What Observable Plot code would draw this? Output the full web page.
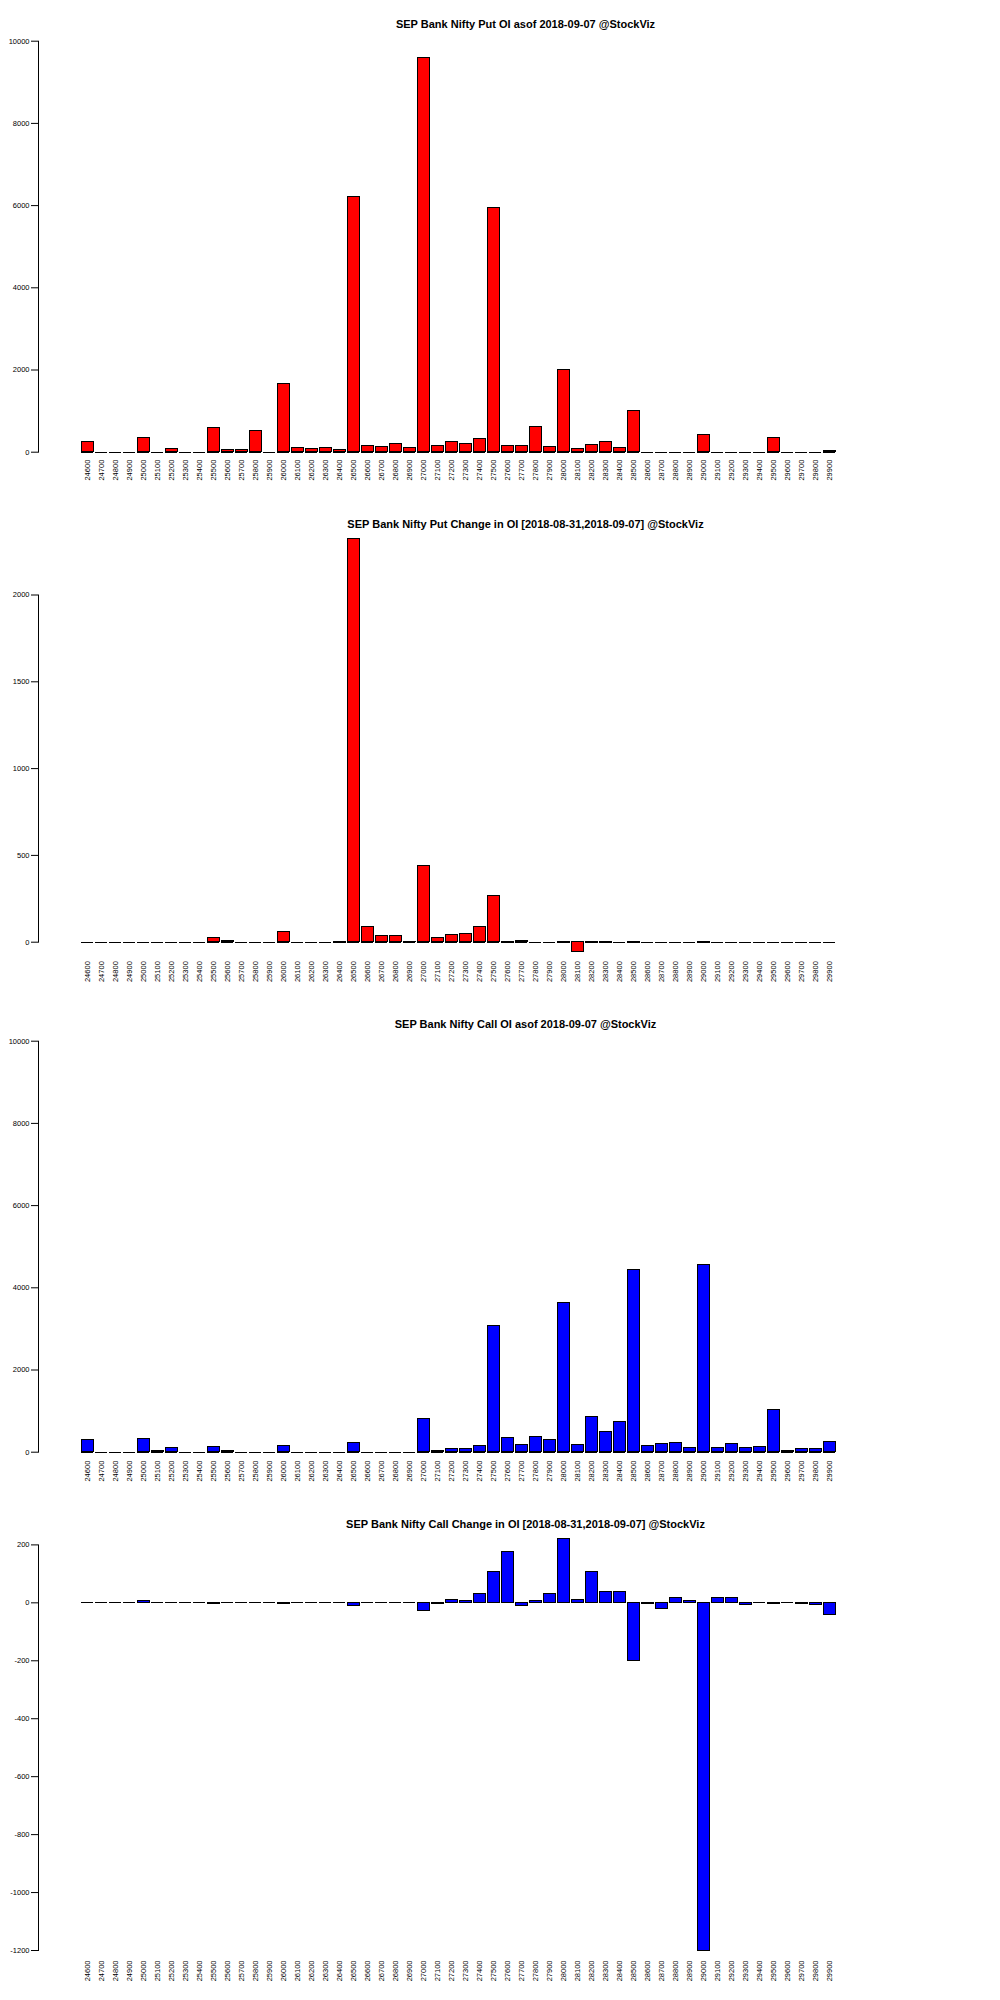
<!DOCTYPE html>
<html><head><meta charset="utf-8">
<script src="https://cdn.jsdelivr.net/npm/d3@7"></script>
<script src="https://cdn.jsdelivr.net/npm/@observablehq/plot@0.6"></script>
<style>body{margin:0;background:#fff} #chart svg{display:block}</style>
</head><body><div id="chart"></div>
<script>
const strikes = [24600,24700,24800,24900,25000,25100,25200,25300,25400,25500,25600,25700,25800,25900,26000,26100,26200,26300,26400,26500,26600,26700,26800,26900,27000,27100,27200,27300,27400,27500,27600,27700,27800,27900,28000,28100,28200,28300,28400,28500,28600,28700,28800,28900,29000,29100,29200,29300,29400,29500,29600,29700,29800,29900];

const putOI = [250,0,0,0,345,0,75,0,0,590,50,50,515,0,1660,100,75,100,50,6220,145,120,205,100,9580,145,245,205,320,5930,145,145,610,125,2010,75,170,245,100,1000,0,0,0,0,415,0,0,0,0,345,0,0,0,20];

const putChg = [0,0,0,0,0,0,0,0,0,25,6,0,0,0,58,0,0,0,-5,2325,88,36,36,2,440,24,42,48,88,265,-4,6,0,0,-4,-57,-4,-4,0,-3,0,0,0,0,-3,0,0,0,0,0,0,0,0,0];

const callOI = [300,0,0,0,320,30,110,0,0,130,30,0,0,0,150,0,0,0,0,230,0,0,0,0,811,30,81,81,162,3080,357,187,381,308,3640,187,868,503,746,4440,162,211,235,114,4565,114,211,114,138,1038,40,89,89,260];

const callChg = [0,0,0,0,8,0,0,0,0,-4,0,0,0,0,-4,0,0,0,0,-11,0,0,0,0,-28,-5,11,8,32,108,177,-11,8,32,221,11,108,36,36,-200,-5,-21,15,8,-1200,17,17,-7,0,-3,0,-3,-7,-41];

const titles = [
  "SEP Bank Nifty Put OI asof 2018-09-07 @StockViz",
  "SEP Bank Nifty Put Change in OI [2018-08-31,2018-09-07] @StockViz",
  "SEP Bank Nifty Call OI asof 2018-09-07 @StockViz",
  "SEP Bank Nifty Call Change in OI [2018-08-31,2018-09-07] @StockViz"
];

const oiTicks = [0,2000,4000,6000,8000,10000];
const putChgTicks = [0,500,1000,1500,2000];
const callChgTicks = [-1200,-1000,-800,-600,-400,-200,0,200];

function panel({title, values, color, yTicks, marginTop, marginBottom, labelGap}) {
  const data = strikes.map((s, i) => ({strike: String(s), value: values[i]}));
  const yDomain = [yTicks[0], yTicks[yTicks.length - 1]];
  return Plot.plot({
    width: 1000, height: 500,
    marginLeft: 38, marginRight: 20, marginTop, marginBottom,
    style: {fontFamily: "'Liberation Sans', Arial, sans-serif", fontSize: "7.5px", background: "white", color: "black"},
    x: {type: "band", domain: strikes.map(String), range: [76.1, 840.2], paddingInner: 1/6, paddingOuter: 1/12, label: null},
    y: {domain: yDomain, label: null},
    marks: [
      Plot.frame({anchor: "left", stroke: "black"}),
      Plot.axisY({ticks: yTicks, tickSize: 7, tickPadding: 2, label: null, tickFormat: d => String(d)}),
      Plot.axisX({tickSize: 0, tickPadding: labelGap, tickRotate: -90, label: null}),
      Plot.tickY(data, {x: "strike", y: () => 0, stroke: "black", shapeRendering: "crispEdges"}),
      Plot.barY(data, {x: "strike", y: "value", fill: color, stroke: "black", strokeWidth: 1, shapeRendering: "crispEdges"}),
      Plot.text([title], {frameAnchor: "top-left", dx: 487, dy: 20 - marginTop, fontWeight: "bold", fontSize: 11, textAnchor: "middle", fill: "black"})
    ]
  });
}

const chart = document.getElementById("chart");
chart.append(panel({title: titles[0], values: putOI, color: "#ff0000", yTicks: oiTicks, marginTop: 40.7, marginBottom: 48.3, labelGap: 7.5}));
chart.append(panel({title: titles[1], values: putChg, color: "#ff0000", yTicks: putChgTicks, marginTop: 94.5, marginBottom: 58.3, labelGap: 19}));
chart.append(panel({title: titles[2], values: callOI, color: "#0000ff", yTicks: oiTicks, marginTop: 40.7, marginBottom: 48.3, labelGap: 8.5}));
chart.append(panel({title: titles[3], values: callChg, color: "#0000ff", yTicks: callChgTicks, marginTop: 44.4, marginBottom: 50, labelGap: 10}));
</script>
</body></html>
